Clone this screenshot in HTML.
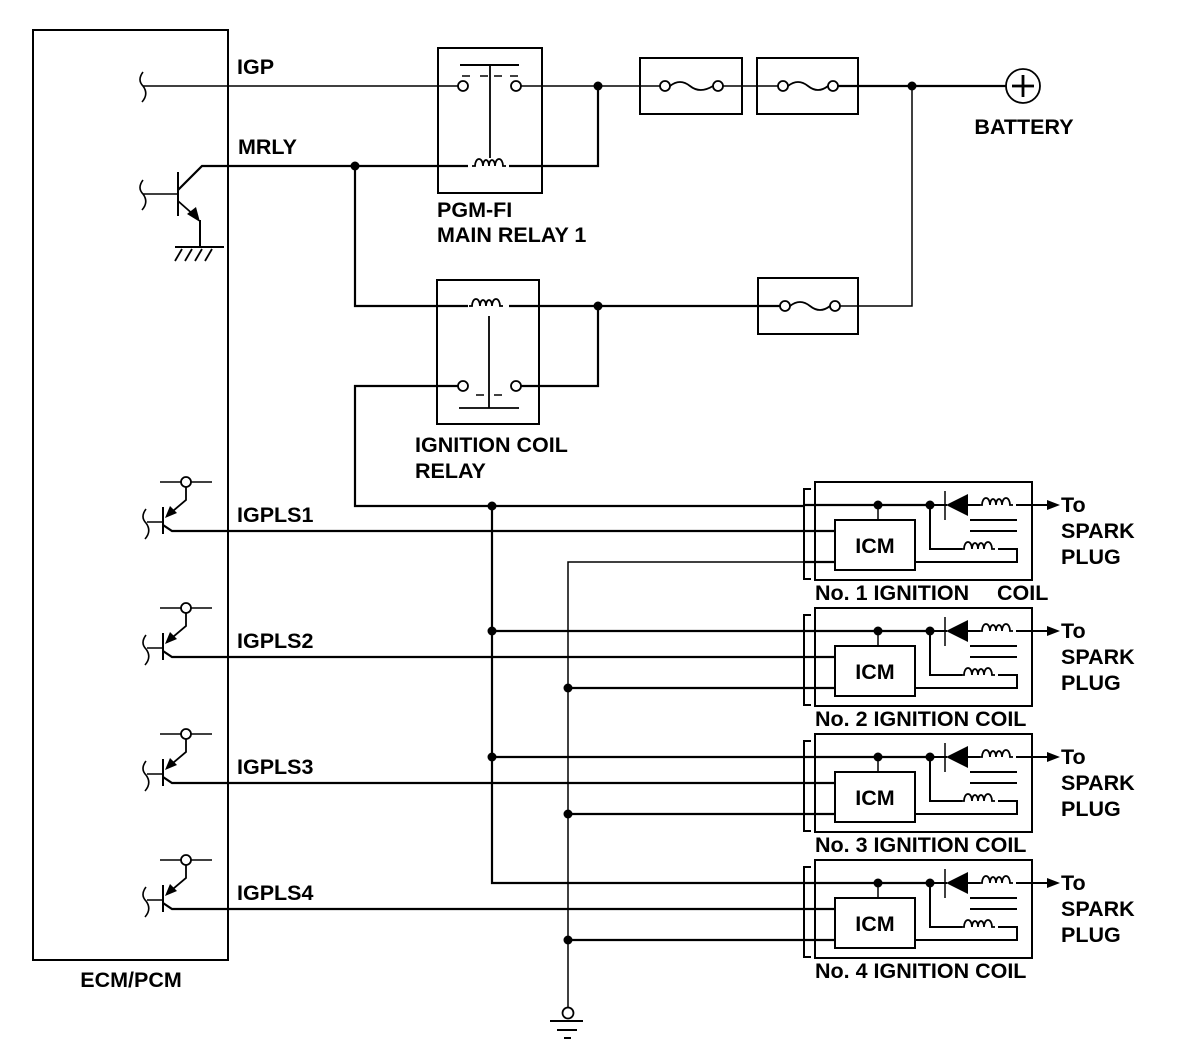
<!DOCTYPE html>
<html><head><style>
html,body{margin:0;padding:0;background:#fff;}
svg{display:block;}
text{font-family:"Liberation Sans",Arial,sans-serif;font-weight:bold;font-size:21.5px;fill:#000;}
</style></head><body>
<svg width="1184" height="1062" viewBox="0 0 1184 1062" xmlns="http://www.w3.org/2000/svg">
<defs>
<g id="coilA"><path d="M-19,0 h3 a4,7 0 0 1 8,0 a3,6 0 0 1 6,0 a3,6 0 0 1 6,0 a4,7 0 0 1 8,0 h3" fill="none" stroke="#000" stroke-width="1.8"/></g>
<g id="tr">
  <line x1="160" y1="-49" x2="212" y2="-49" stroke="#000" stroke-width="1.5"/>
  <circle cx="186" cy="-49" r="5" fill="#fff" stroke="#000" stroke-width="1.8"/>
  <polyline points="186,-44 186,-31 167,-15" fill="none" stroke="#000" stroke-width="1.8"/>
  <polygon points="165,-13 170,-25 177,-18" fill="#000"/>
  <line x1="163" y1="-24" x2="163" y2="3" stroke="#000" stroke-width="2"/>
  <line x1="147" y1="-9" x2="163" y2="-9" stroke="#000" stroke-width="1.5"/>
  <path d="M146,-22 q-6,8 0,14 q6,8 -1,16" fill="none" stroke="#000" stroke-width="1.6"/>
  <polyline points="163,-6 172,0 805,0" fill="none" stroke="#000" stroke-width="2.2"/>
</g>
<g id="coil">
  <rect x="815" y="482" width="217" height="98" fill="none" stroke="#000" stroke-width="2"/>
  <polyline points="811,489 804,489 804,579 811,579" fill="none" stroke="#000" stroke-width="2"/>
  <line x1="804" y1="505" x2="930" y2="505" stroke="#000" stroke-width="2.2"/>
  <line x1="804" y1="531" x2="835" y2="531" stroke="#000" stroke-width="2.2"/>
  <line x1="804" y1="562" x2="835" y2="562" stroke="#000" stroke-width="2.2"/>
  <rect x="835" y="520" width="80" height="50" fill="none" stroke="#000" stroke-width="2"/>
  <text x="875" y="553" text-anchor="middle">ICM</text>
  <line x1="878" y1="505" x2="878" y2="520" stroke="#000" stroke-width="1.5"/>
  <circle cx="878" cy="505" r="4.5" fill="#000"/>
  <circle cx="930" cy="505" r="4.5" fill="#000"/>
  <line x1="930" y1="505" x2="947" y2="505" stroke="#000" stroke-width="2"/>
  <line x1="945" y1="491" x2="945" y2="520" stroke="#000" stroke-width="1.5"/>
  <polygon points="946,505 968,494 968,516" fill="#000"/>
  <line x1="968" y1="505" x2="980" y2="505" stroke="#000" stroke-width="2"/>
  <use href="#coilA" x="998" y="505"/>
  <line x1="1016" y1="505" x2="1050" y2="505" stroke="#000" stroke-width="2"/>
  <polygon points="1060,505 1047,500 1047,510" fill="#000"/>
  <line x1="970" y1="520" x2="1017" y2="520" stroke="#000" stroke-width="2"/>
  <line x1="970" y1="531" x2="1017" y2="531" stroke="#000" stroke-width="2"/>
  <polyline points="930,505 930,549 962,549" fill="none" stroke="#000" stroke-width="2"/>
  <use href="#coilA" x="980" y="549"/>
  <polyline points="998,549 1017,549 1017,562 915,562" fill="none" stroke="#000" stroke-width="2"/>
  <text x="1061" y="512">To</text>
  <text x="1061" y="538">SPARK</text>
  <text x="1061" y="564">PLUG</text>
</g>
</defs>

<rect x="33" y="30" width="195" height="930" fill="none" stroke="#000" stroke-width="2"/>
<text x="131" y="987" text-anchor="middle">ECM/PCM</text>
<text x="237" y="74">IGP</text>
<text x="238" y="154">MRLY</text>
<text x="237" y="522">IGPLS1</text>
<text x="237" y="648">IGPLS2</text>
<text x="237" y="774">IGPLS3</text>
<text x="237" y="900">IGPLS4</text>

<path d="M143,72 q-6,8 0,14 q6,8 -1,16" fill="none" stroke="#000" stroke-width="1.6"/>
<line x1="143" y1="86" x2="458" y2="86" stroke="#000" stroke-width="1.5"/>

<path d="M143,180 q-6,8 0,14 q6,8 -1,16" fill="none" stroke="#000" stroke-width="1.6"/>
<line x1="143" y1="194" x2="178" y2="194" stroke="#000" stroke-width="1.5"/>
<line x1="178" y1="172" x2="178" y2="216" stroke="#000" stroke-width="2"/>
<polyline points="178,190 202,166 468,166" fill="none" stroke="#000" stroke-width="2.2"/>
<line x1="178" y1="201" x2="195" y2="216" stroke="#000" stroke-width="1.8"/>
<polygon points="200,222 187,214 196,207" fill="#000"/>
<line x1="200" y1="220" x2="200" y2="247" stroke="#000" stroke-width="2"/>
<line x1="175" y1="247" x2="224" y2="247" stroke="#000" stroke-width="2"/>
<path d="M182,249 l-7,12 M192,249 l-7,12 M202,249 l-7,12 M212,249 l-7,12" stroke="#000" stroke-width="1.8"/>
<circle cx="355" cy="166" r="4.5" fill="#000"/>
<polyline points="355,166 355,306 468,306" fill="none" stroke="#000" stroke-width="2.2"/>

<rect x="438" y="48" width="104" height="145" fill="none" stroke="#000" stroke-width="2"/>
<circle cx="463" cy="86" r="5" fill="#fff" stroke="#000" stroke-width="1.8"/>
<circle cx="516" cy="86" r="5" fill="#fff" stroke="#000" stroke-width="1.8"/>
<line x1="460" y1="65" x2="519" y2="65" stroke="#000" stroke-width="2"/>
<line x1="490" y1="65" x2="490" y2="158" stroke="#000" stroke-width="1.8"/>
<path d="M462,76 h8 M480,76 h8 M494,76 h8 M510,76 h8" stroke="#000" stroke-width="1.4"/>
<use href="#coilA" x="491" y="166"/>
<polyline points="509,166 598,166 598,86" fill="none" stroke="#000" stroke-width="2.2"/>
<line x1="521" y1="86" x2="660" y2="86" stroke="#000" stroke-width="1.5"/>
<circle cx="598" cy="86" r="4.5" fill="#000"/>
<text x="437" y="217">PGM-FI</text>
<text x="437" y="242">MAIN RELAY 1</text>

<rect x="640" y="58" width="102" height="56" fill="none" stroke="#000" stroke-width="2"/>
<rect x="757" y="58" width="101" height="56" fill="none" stroke="#000" stroke-width="2"/>
<circle cx="665" cy="86" r="5" fill="#fff" stroke="#000" stroke-width="1.8"/>
<circle cx="718" cy="86" r="5" fill="#fff" stroke="#000" stroke-width="1.8"/>
<path d="M670,86 q10,-8 20,0 t23,0" fill="none" stroke="#000" stroke-width="1.8"/>
<line x1="723" y1="86" x2="778" y2="86" stroke="#000" stroke-width="1.5"/>
<circle cx="783" cy="86" r="5" fill="#fff" stroke="#000" stroke-width="1.8"/>
<circle cx="833" cy="86" r="5" fill="#fff" stroke="#000" stroke-width="1.8"/>
<path d="M788,86 q10,-8 20,0 t20,0" fill="none" stroke="#000" stroke-width="1.8"/>
<line x1="838" y1="86" x2="1006" y2="86" stroke="#000" stroke-width="2.2"/>
<circle cx="912" cy="86" r="4.5" fill="#000"/>
<circle cx="1023" cy="86" r="17" fill="none" stroke="#000" stroke-width="1.8"/>
<path d="M1023,75 v22 M1012,86 h22" stroke="#000" stroke-width="2.8"/>
<text x="1024" y="134" text-anchor="middle">BATTERY</text>
<polyline points="912,86 912,306 840,306" fill="none" stroke="#000" stroke-width="1.5"/>

<rect x="758" y="278" width="100" height="56" fill="none" stroke="#000" stroke-width="2"/>
<circle cx="785" cy="306" r="5" fill="#fff" stroke="#000" stroke-width="1.8"/>
<circle cx="835" cy="306" r="5" fill="#fff" stroke="#000" stroke-width="1.8"/>
<path d="M790,306 q10,-8 20,0 t20,0" fill="none" stroke="#000" stroke-width="1.8"/>
<line x1="509" y1="306" x2="780" y2="306" stroke="#000" stroke-width="2.2"/>
<circle cx="598" cy="306" r="4.5" fill="#000"/>

<rect x="437" y="280" width="102" height="144" fill="none" stroke="#000" stroke-width="2"/>
<use href="#coilA" x="488" y="306"/>
<line x1="489" y1="316" x2="489" y2="408" stroke="#000" stroke-width="1.8"/>
<line x1="459" y1="408" x2="519" y2="408" stroke="#000" stroke-width="1.8"/>
<circle cx="463" cy="386" r="5" fill="#fff" stroke="#000" stroke-width="1.8"/>
<circle cx="516" cy="386" r="5" fill="#fff" stroke="#000" stroke-width="1.8"/>
<path d="M476,395 h8 M494,395 h8" stroke="#000" stroke-width="1.6"/>
<polyline points="521,386 598,386 598,306" fill="none" stroke="#000" stroke-width="2.2"/>
<polyline points="458,386 355,386 355,506 805,506" fill="none" stroke="#000" stroke-width="2.2"/>
<text x="415" y="452">IGNITION COIL</text>
<text x="415" y="478">RELAY</text>

<polyline points="492,506 492,883 805,883" fill="none" stroke="#000" stroke-width="2.2"/>
<circle cx="492" cy="506" r="4.5" fill="#000"/>
<circle cx="492" cy="631" r="4.5" fill="#000"/>
<circle cx="492" cy="757" r="4.5" fill="#000"/>
<line x1="492" y1="631" x2="805" y2="631" stroke="#000" stroke-width="2.2"/>
<line x1="492" y1="757" x2="805" y2="757" stroke="#000" stroke-width="2.2"/>

<polyline points="805,562 568,562 568,1007" fill="none" stroke="#000" stroke-width="1.5"/>
<circle cx="568" cy="688" r="4.5" fill="#000"/>
<circle cx="568" cy="814" r="4.5" fill="#000"/>
<circle cx="568" cy="940" r="4.5" fill="#000"/>
<line x1="568" y1="688" x2="805" y2="688" stroke="#000" stroke-width="2.2"/>
<line x1="568" y1="814" x2="805" y2="814" stroke="#000" stroke-width="2.2"/>
<line x1="568" y1="940" x2="805" y2="940" stroke="#000" stroke-width="2.2"/>
<circle cx="568" cy="1013" r="5.5" fill="#fff" stroke="#000" stroke-width="1.8"/>
<path d="M550,1021 h33 M557,1030 h20 M564,1038 h7" stroke="#000" stroke-width="2"/>

<use href="#tr" y="531"/>
<use href="#tr" y="657"/>
<use href="#tr" y="783"/>
<use href="#tr" y="909"/>

<use href="#coil" y="0"/>
<use href="#coil" y="126"/>
<use href="#coil" y="252"/>
<use href="#coil" y="378"/>
<text x="815" y="600">No. 1 IGNITION</text><text x="997" y="600">COIL</text>
<text x="815" y="726">No. 2 IGNITION COIL</text>
<text x="815" y="852">No. 3 IGNITION COIL</text>
<text x="815" y="978">No. 4 IGNITION COIL</text>
</svg>
</body></html>
